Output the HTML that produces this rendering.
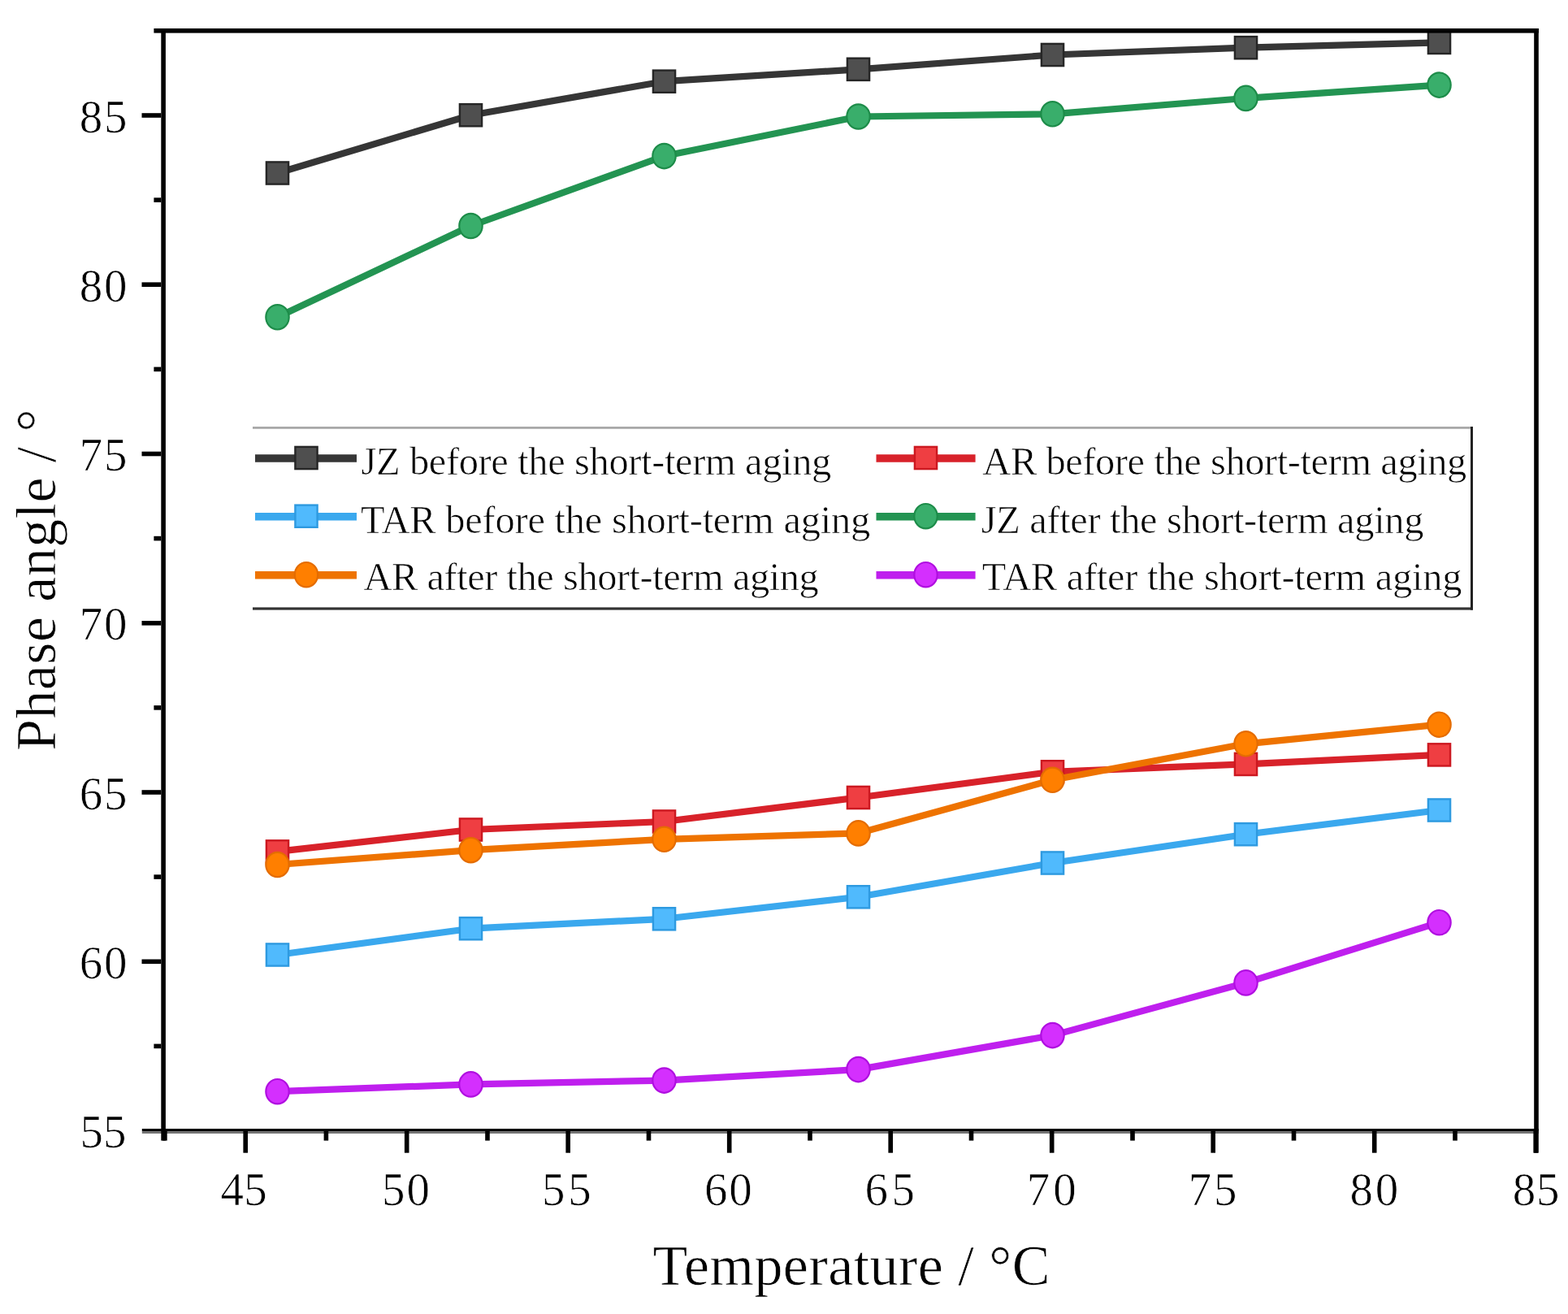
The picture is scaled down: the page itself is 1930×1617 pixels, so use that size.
<!DOCTYPE html>
<html><head><meta charset="utf-8"><title>Phase angle vs Temperature</title>
<style>
html,body{margin:0;padding:0;background:#fff;overflow:hidden;width:1930px;height:1617px;}
svg{display:block;}
text{font-family:"Liberation Serif","Times New Roman",serif;fill:#000;stroke:#fff;stroke-width:0.7px;}
.tk{font-size:57px;}
.ttl{font-size:70px;}
.lg{font-size:48.5px;}
</style></head>
<body>
<svg width="1930" height="1617" viewBox="0 0 1930 1617">
<rect width="1930" height="1617" fill="#fff"/>
<polyline points="341.5,213.0 579.5,141.7 817.5,100.2 1056.5,85.3 1295.5,67.5 1533.5,58.7 1771.5,52.4" fill="none" stroke="#363636" stroke-width="8.2" stroke-linejoin="round"/>
<rect x="327.9" y="199.4" width="27.2" height="27.2" fill="#4f4f4f" stroke="#262626" stroke-width="2.4"/>
<rect x="565.9" y="128.1" width="27.2" height="27.2" fill="#4f4f4f" stroke="#262626" stroke-width="2.4"/>
<rect x="803.9" y="86.6" width="27.2" height="27.2" fill="#4f4f4f" stroke="#262626" stroke-width="2.4"/>
<rect x="1042.9" y="71.7" width="27.2" height="27.2" fill="#4f4f4f" stroke="#262626" stroke-width="2.4"/>
<rect x="1281.9" y="53.9" width="27.2" height="27.2" fill="#4f4f4f" stroke="#262626" stroke-width="2.4"/>
<rect x="1519.9" y="45.1" width="27.2" height="27.2" fill="#4f4f4f" stroke="#262626" stroke-width="2.4"/>
<rect x="1757.9" y="38.8" width="27.2" height="27.2" fill="#4f4f4f" stroke="#262626" stroke-width="2.4"/>
<polyline points="341.5,1047.9 579.5,1021.0 817.5,1011.0 1056.5,981.5 1295.5,949.8 1533.5,940.4 1771.5,928.9" fill="none" stroke="#d8222a" stroke-width="8.2" stroke-linejoin="round"/>
<rect x="327.9" y="1034.3" width="27.2" height="27.2" fill="#ef3e42" stroke="#cc1820" stroke-width="2.4"/>
<rect x="565.9" y="1007.4" width="27.2" height="27.2" fill="#ef3e42" stroke="#cc1820" stroke-width="2.4"/>
<rect x="803.9" y="997.4" width="27.2" height="27.2" fill="#ef3e42" stroke="#cc1820" stroke-width="2.4"/>
<rect x="1042.9" y="967.9" width="27.2" height="27.2" fill="#ef3e42" stroke="#cc1820" stroke-width="2.4"/>
<rect x="1281.9" y="936.2" width="27.2" height="27.2" fill="#ef3e42" stroke="#cc1820" stroke-width="2.4"/>
<rect x="1519.9" y="926.8" width="27.2" height="27.2" fill="#ef3e42" stroke="#cc1820" stroke-width="2.4"/>
<rect x="1757.9" y="915.3" width="27.2" height="27.2" fill="#ef3e42" stroke="#cc1820" stroke-width="2.4"/>
<polyline points="341.5,1175.0 579.5,1142.7 817.5,1130.8 1056.5,1103.8 1295.5,1062.0 1533.5,1026.7 1771.5,997.0" fill="none" stroke="#3aa8ee" stroke-width="8.2" stroke-linejoin="round"/>
<rect x="327.9" y="1161.4" width="27.2" height="27.2" fill="#50bafd" stroke="#2e9ae0" stroke-width="2.4"/>
<rect x="565.9" y="1129.1" width="27.2" height="27.2" fill="#50bafd" stroke="#2e9ae0" stroke-width="2.4"/>
<rect x="803.9" y="1117.2" width="27.2" height="27.2" fill="#50bafd" stroke="#2e9ae0" stroke-width="2.4"/>
<rect x="1042.9" y="1090.2" width="27.2" height="27.2" fill="#50bafd" stroke="#2e9ae0" stroke-width="2.4"/>
<rect x="1281.9" y="1048.4" width="27.2" height="27.2" fill="#50bafd" stroke="#2e9ae0" stroke-width="2.4"/>
<rect x="1519.9" y="1013.1" width="27.2" height="27.2" fill="#50bafd" stroke="#2e9ae0" stroke-width="2.4"/>
<rect x="1757.9" y="983.4" width="27.2" height="27.2" fill="#50bafd" stroke="#2e9ae0" stroke-width="2.4"/>
<polyline points="341.5,390.3 579.5,278.0 817.5,192.1 1056.5,143.5 1295.5,140.3 1533.5,120.9 1771.5,104.6" fill="none" stroke="#239452" stroke-width="8.2" stroke-linejoin="round"/>
<ellipse cx="341.5" cy="390.3" rx="14.2" ry="15.2" fill="#39ae6b" stroke="#1d8c49" stroke-width="2.2"/>
<ellipse cx="579.5" cy="278.0" rx="14.2" ry="15.2" fill="#39ae6b" stroke="#1d8c49" stroke-width="2.2"/>
<ellipse cx="817.5" cy="192.1" rx="14.2" ry="15.2" fill="#39ae6b" stroke="#1d8c49" stroke-width="2.2"/>
<ellipse cx="1056.5" cy="143.5" rx="14.2" ry="15.2" fill="#39ae6b" stroke="#1d8c49" stroke-width="2.2"/>
<ellipse cx="1295.5" cy="140.3" rx="14.2" ry="15.2" fill="#39ae6b" stroke="#1d8c49" stroke-width="2.2"/>
<ellipse cx="1533.5" cy="120.9" rx="14.2" ry="15.2" fill="#39ae6b" stroke="#1d8c49" stroke-width="2.2"/>
<ellipse cx="1771.5" cy="104.6" rx="14.2" ry="15.2" fill="#39ae6b" stroke="#1d8c49" stroke-width="2.2"/>
<polyline points="341.5,1064.0 579.5,1046.2 817.5,1032.8 1056.5,1025.4 1295.5,959.8 1533.5,915.3 1771.5,891.7" fill="none" stroke="#ee7300" stroke-width="8.2" stroke-linejoin="round"/>
<ellipse cx="341.5" cy="1064.0" rx="14.2" ry="15.2" fill="#ff7f00" stroke="#e46c00" stroke-width="2.2"/>
<ellipse cx="579.5" cy="1046.2" rx="14.2" ry="15.2" fill="#ff7f00" stroke="#e46c00" stroke-width="2.2"/>
<ellipse cx="817.5" cy="1032.8" rx="14.2" ry="15.2" fill="#ff7f00" stroke="#e46c00" stroke-width="2.2"/>
<ellipse cx="1056.5" cy="1025.4" rx="14.2" ry="15.2" fill="#ff7f00" stroke="#e46c00" stroke-width="2.2"/>
<ellipse cx="1295.5" cy="959.8" rx="14.2" ry="15.2" fill="#ff7f00" stroke="#e46c00" stroke-width="2.2"/>
<ellipse cx="1533.5" cy="915.3" rx="14.2" ry="15.2" fill="#ff7f00" stroke="#e46c00" stroke-width="2.2"/>
<ellipse cx="1771.5" cy="891.7" rx="14.2" ry="15.2" fill="#ff7f00" stroke="#e46c00" stroke-width="2.2"/>
<polyline points="341.5,1343.2 579.5,1334.4 817.5,1329.6 1056.5,1316.1 1295.5,1274.1 1533.5,1209.4 1771.5,1135.2" fill="none" stroke="#bf1fee" stroke-width="8.2" stroke-linejoin="round"/>
<ellipse cx="341.5" cy="1343.2" rx="14.2" ry="15.2" fill="#d42ffe" stroke="#b00fe0" stroke-width="2.2"/>
<ellipse cx="579.5" cy="1334.4" rx="14.2" ry="15.2" fill="#d42ffe" stroke="#b00fe0" stroke-width="2.2"/>
<ellipse cx="817.5" cy="1329.6" rx="14.2" ry="15.2" fill="#d42ffe" stroke="#b00fe0" stroke-width="2.2"/>
<ellipse cx="1056.5" cy="1316.1" rx="14.2" ry="15.2" fill="#d42ffe" stroke="#b00fe0" stroke-width="2.2"/>
<ellipse cx="1295.5" cy="1274.1" rx="14.2" ry="15.2" fill="#d42ffe" stroke="#b00fe0" stroke-width="2.2"/>
<ellipse cx="1533.5" cy="1209.4" rx="14.2" ry="15.2" fill="#d42ffe" stroke="#b00fe0" stroke-width="2.2"/>
<ellipse cx="1771.5" cy="1135.2" rx="14.2" ry="15.2" fill="#d42ffe" stroke="#b00fe0" stroke-width="2.2"/>
<rect x="189.4" y="35" width="1704.6" height="5.6" fill="#000"/>
<rect x="174.8" y="1389" width="1719.2" height="3.2" fill="#000"/>
<rect x="174.8" y="1392.2" width="1719.2" height="2.7" fill="#6c6c6c"/>
<rect x="198.3" y="35" width="5.6" height="1368.6" fill="#000"/>
<rect x="1888.2" y="35" width="5.6" height="1383.7" fill="#000"/>
<rect x="189.4" y="1284.6" width="8.900000000000006" height="5.6" fill="#000"/>
<rect x="174.5" y="1180.5" width="23.80000000000001" height="5.6" fill="#000"/>
<rect x="189.4" y="1076.3" width="8.900000000000006" height="5.6" fill="#000"/>
<rect x="174.5" y="972.2" width="23.80000000000001" height="5.6" fill="#000"/>
<rect x="189.4" y="868.1" width="8.900000000000006" height="5.6" fill="#000"/>
<rect x="174.5" y="764.0" width="23.80000000000001" height="5.6" fill="#000"/>
<rect x="189.4" y="659.8" width="8.900000000000006" height="5.6" fill="#000"/>
<rect x="174.5" y="555.7" width="23.80000000000001" height="5.6" fill="#000"/>
<rect x="189.4" y="451.6" width="8.900000000000006" height="5.6" fill="#000"/>
<rect x="174.5" y="347.4" width="23.80000000000001" height="5.6" fill="#000"/>
<rect x="189.4" y="243.3" width="8.900000000000006" height="5.6" fill="#000"/>
<rect x="174.5" y="139.2" width="23.80000000000001" height="5.6" fill="#000"/>
<rect x="200.1" y="1390" width="5.6" height="13.599999999999909" fill="#000"/>
<rect x="299.4" y="1390" width="5.6" height="28.700000000000045" fill="#000"/>
<rect x="398.6" y="1390" width="5.6" height="13.599999999999909" fill="#000"/>
<rect x="497.9" y="1390" width="5.6" height="28.700000000000045" fill="#000"/>
<rect x="597.2" y="1390" width="5.6" height="13.599999999999909" fill="#000"/>
<rect x="696.4" y="1390" width="5.6" height="28.700000000000045" fill="#000"/>
<rect x="795.7" y="1390" width="5.6" height="13.599999999999909" fill="#000"/>
<rect x="894.9" y="1390" width="5.6" height="28.700000000000045" fill="#000"/>
<rect x="994.2" y="1390" width="5.6" height="13.599999999999909" fill="#000"/>
<rect x="1093.4" y="1390" width="5.6" height="28.700000000000045" fill="#000"/>
<rect x="1192.7" y="1390" width="5.6" height="13.599999999999909" fill="#000"/>
<rect x="1291.9" y="1390" width="5.6" height="28.700000000000045" fill="#000"/>
<rect x="1391.2" y="1390" width="5.6" height="13.599999999999909" fill="#000"/>
<rect x="1490.4" y="1390" width="5.6" height="28.700000000000045" fill="#000"/>
<rect x="1589.7" y="1390" width="5.6" height="13.599999999999909" fill="#000"/>
<rect x="1688.9" y="1390" width="5.6" height="28.700000000000045" fill="#000"/>
<rect x="1788.2" y="1390" width="5.6" height="13.599999999999909" fill="#000"/>
<rect x="1887.4" y="1390" width="5.6" height="28.700000000000045" fill="#000"/>
<text x="155.6" y="1412.0" text-anchor="end" class="tk">55</text>
<text x="97.8" y="1203.8" textLength="58.6" lengthAdjust="spacing" class="tk">60</text>
<text x="97.8" y="995.5" textLength="58.6" lengthAdjust="spacing" class="tk">65</text>
<text x="97.8" y="787.2" textLength="58.6" lengthAdjust="spacing" class="tk">70</text>
<text x="97.8" y="579.0" textLength="58.6" lengthAdjust="spacing" class="tk">75</text>
<text x="97.8" y="370.8" textLength="58.6" lengthAdjust="spacing" class="tk">80</text>
<text x="97.8" y="162.5" textLength="58.6" lengthAdjust="spacing" class="tk">85</text>
<text x="271.6" y="1483" textLength="57.1" lengthAdjust="spacing" class="tk">45</text>
<text x="469.9" y="1483" textLength="59.1" lengthAdjust="spacing" class="tk">50</text>
<text x="666.9" y="1483" textLength="60.8" lengthAdjust="spacing" class="tk">55</text>
<text x="866.9" y="1483" textLength="58.9" lengthAdjust="spacing" class="tk">60</text>
<text x="1064.5" y="1483" textLength="61.6" lengthAdjust="spacing" class="tk">65</text>
<text x="1263.8" y="1483" textLength="60.9" lengthAdjust="spacing" class="tk">70</text>
<text x="1462.7" y="1483" textLength="59.8" lengthAdjust="spacing" class="tk">75</text>
<text x="1661.5" y="1483" textLength="59.7" lengthAdjust="spacing" class="tk">80</text>
<text x="1861.7" y="1483" textLength="57.8" lengthAdjust="spacing" class="tk">85</text>
<text x="803.6" y="1581.3" textLength="488.8" lengthAdjust="spacing" class="ttl">Temperature / °C</text>
<text transform="translate(67.5,923.9) rotate(-90)" x="0" y="0" textLength="420.5" lengthAdjust="spacing" class="ttl">Phase angle / °</text>
<rect x="311" y="525" width="1502" height="2.8" fill="#a8a8a8"/>
<rect x="311" y="747.4" width="1502" height="3.2" fill="#333"/>
<rect x="1810" y="525" width="3" height="225.6" fill="#222"/>
<line x1="314" y1="564.0" x2="439" y2="564.0" stroke="#363636" stroke-width="9.5"/>
<rect x="363.4" y="549.9" width="27.2" height="27.2" fill="#4f4f4f" stroke="#262626" stroke-width="2.4"/>
<text x="444.4" y="584.1" textLength="578.9" lengthAdjust="spacing" class="lg">JZ before the short-term aging</text>
<line x1="1078.5" y1="564.0" x2="1200.6" y2="564.0" stroke="#d8222a" stroke-width="9.5"/>
<rect x="1125.9" y="549.9" width="27.2" height="27.2" fill="#ef3e42" stroke="#cc1820" stroke-width="2.4"/>
<text x="1209.3" y="584.1" textLength="596.0" lengthAdjust="spacing" class="lg">AR before the short-term aging</text>
<line x1="314" y1="635.7" x2="439" y2="635.7" stroke="#3aa8ee" stroke-width="9.5"/>
<rect x="363.4" y="621.6" width="27.2" height="27.2" fill="#50bafd" stroke="#2e9ae0" stroke-width="2.4"/>
<text x="444.0" y="655.5" textLength="627.2" lengthAdjust="spacing" class="lg">TAR before the short-term aging</text>
<line x1="1078.5" y1="635.7" x2="1200.6" y2="635.7" stroke="#239452" stroke-width="9.5"/>
<ellipse cx="1139.5" cy="635.2" rx="14.2" ry="15.2" fill="#39ae6b" stroke="#1d8c49" stroke-width="2.2"/>
<text x="1207.7" y="655.5" textLength="544.7" lengthAdjust="spacing" class="lg">JZ after the short-term aging</text>
<line x1="314" y1="707.7" x2="439" y2="707.7" stroke="#ee7300" stroke-width="9.5"/>
<ellipse cx="377.0" cy="707.2" rx="14.2" ry="15.2" fill="#ff7f00" stroke="#e46c00" stroke-width="2.2"/>
<text x="447.4" y="726.1" textLength="560.35" lengthAdjust="spacing" class="lg">AR after the short-term aging</text>
<line x1="1078.5" y1="707.7" x2="1200.6" y2="707.7" stroke="#bf1fee" stroke-width="9.5"/>
<ellipse cx="1139.5" cy="707.2" rx="14.2" ry="15.2" fill="#d42ffe" stroke="#b00fe0" stroke-width="2.2"/>
<text x="1208.7" y="726.1" textLength="590.7" lengthAdjust="spacing" class="lg">TAR after the short-term aging</text>
</svg>
</body></html>
